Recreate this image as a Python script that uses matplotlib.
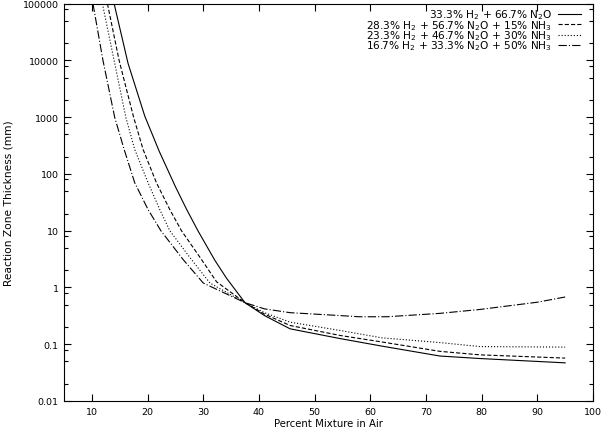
import numpy as np
import matplotlib
matplotlib.use("Agg")
import matplotlib.pyplot as plt
from matplotlib.ticker import LogLocator, FuncFormatter

plt.rcParams['font.family'] = ['DejaVu Sans']
plt.rcParams['mathtext.fontset'] = 'dejavusans'
plt.rcParams['lines.scale_dashes'] = False

# values (percent in air, thickness in mm)
labels = [r'33.3% H$_2$ + 66.7% N$_2$O',
          r'28.3% H$_2$ + 56.7% N$_2$O + 15% NH$_3$',
          r'23.3% H$_2$ + 46.7% N$_2$O + 30% NH$_3$',
          r'16.7% H$_2$ + 33.3% N$_2$O + 50% NH$_3$']
xticks = [10, 20, 30, 40, 50, 60, 70, 80, 90, 100]

h2_x = [14.0, 16.5, 19.5, 22.1, 25.0, 27.0, 29.1, 32.1, 34.2, 37.5,
        41, 45.6, 54.55, 62, 72.5, 79.7, 95]
h2_y = [1e5, 8.9e3, 1.05e3, 251, 60, 24, 9.8, 3.0, 1.45, 0.54,
        0.32, 0.187, 0.126, 0.093, 0.062, 0.056, 0.047]

nh15_x = [12.8, 14.9, 17.5, 19.2, 21.6, 24.0, 26.1, 29.7, 32.4, 37.5,
          41, 45.6, 54.55, 62, 72.5, 79.7, 95]
nh15_y = [1e5, 1e4, 1e3, 271, 70, 23.6, 10, 3.1, 1.26, 0.54,
          0.34, 0.214, 0.143, 0.11, 0.075, 0.065, 0.057]

nh30_x = [11.9, 14.0, 16.1, 17.7, 20.1, 22.2, 24.0, 27.9, 31.2, 37.5,
          41, 45.6, 54.55, 62, 72.5, 79.7, 95]
nh30_y = [1e5, 1e4, 1e3, 271, 70, 23.6, 10, 3.1, 1.2, 0.54,
          0.36, 0.245, 0.175, 0.13, 0.107, 0.091, 0.089]

nh50_x = [10.2, 12.0, 14.1, 15.8, 17.7, 20.1, 22.4, 26.4, 30.0, 37.5,
          41, 45.6, 54.55, 58, 63, 72.5, 79.7, 90, 95]
nh50_y = [1e5, 1e4, 1e3, 271, 70, 23.6, 10, 3.1, 1.2, 0.54,
          0.42, 0.36, 0.32, 0.305, 0.305, 0.35, 0.41, 0.55, 0.68]

fig = plt.figure(figsize=(6.03, 4.31), dpi=100)
ax = fig.add_axes([64/603, 29/431, (593-64)/603, (402-4.7)/431])

lw = 0.8
ax.plot(h2_x, h2_y, color='black', lw=lw, label=labels[0])
ax.plot(nh15_x, nh15_y, color='black', lw=lw, dashes=(3, 1.5), label=labels[1])
ax.plot(nh30_x, nh30_y, color='black', lw=lw, dashes=(0.8, 1.4), label=labels[2])
ax.plot(nh50_x, nh50_y, color='black', lw=lw, dashes=(6, 1.5, 0.8, 1.5), label=labels[3])

ax.set_yscale('log')
ax.set_xlim(5, 100)
ax.set_ylim(0.01, 100000)
ax.set_xticks(xticks)
ax.yaxis.set_major_locator(LogLocator(base=10, numticks=20))
ax.yaxis.set_minor_locator(LogLocator(base=10, subs=(2, 5, 8), numticks=20))
ax.yaxis.set_minor_formatter(FuncFormatter(lambda v, p: ''))
ax.yaxis.set_major_formatter(FuncFormatter(lambda v, p: '%g' % v))

ax.tick_params(which='both', direction='in', top=True, right=True,
               labelsize=6.8, width=0.8)
ax.tick_params(which='major', length=5, pad=4)
ax.tick_params(which='minor', length=3)
for s in ax.spines.values():
    s.set_linewidth(0.8)

ax.set_xlabel('Percent Mixture in Air', fontsize=7.3, labelpad=2)
ax.set_ylabel('Reaction Zone Thickness (mm)', fontsize=7.7)
ax.yaxis.set_label_coords(-0.096, 0.5)

ax.legend(loc='upper right', bbox_to_anchor=(0.977, 0.99), frameon=False,
          markerfirst=False, fontsize=7.6, labelspacing=-0.33,
          handlelength=2.2, handletextpad=0.5, borderpad=0, borderaxespad=0)

fig.savefig('out.png', dpi=100)
